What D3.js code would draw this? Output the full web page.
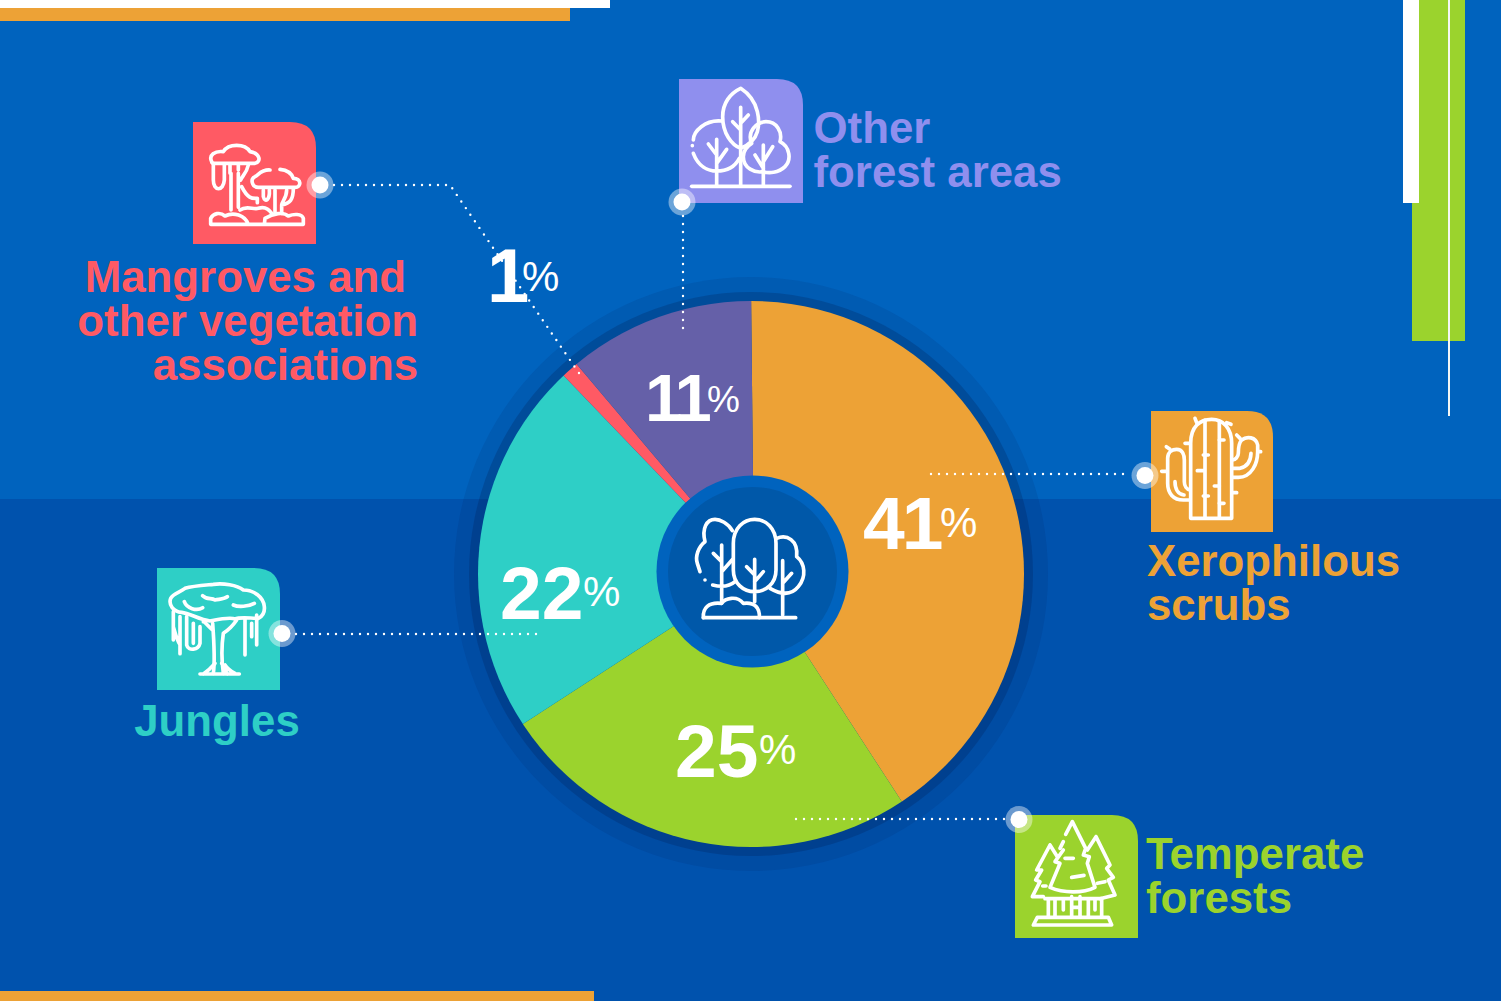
<!DOCTYPE html>
<html><head><meta charset="utf-8">
<script src="https://cdn.jsdelivr.net/npm/d3@7"></script>
<style>html,body{margin:0;padding:0;background:#0063BE;overflow:hidden}svg{display:block}
text{font-family:"Liberation Sans",Arial,sans-serif}</style></head><body>
<svg id="c" width="1501" height="1001"></svg>
<script>
const categories=["Xerophilous scrubs","Temperate forests","Jungles","Mangroves and other vegetation associations","Other forest areas"];
const values=[41,25,22,1,11];
const tickLabels=values.map(v=>v+"");
const colors=["#EDA236","#9BD32D","#2ECFC6","#FF5A64","#6560A8"];
const legendColors=["#EDA236","#9BD32D","#2ECFC6","#FF5A64","#8F8FEE"];
const legendLines=[["Xerophilous","scrubs"],["Temperate","forests"],["Jungles"],["Mangroves and","other vegetation","associations"],["Other","forest areas"]];

const svg=d3.select("#c");
const W=1501,H=1001,cx=751,cy=574,R=273;
function rect(x,y,w,h,f){svg.append("rect").attr("x",x).attr("y",y).attr("width",w).attr("height",h).attr("fill",f);}
rect(0,0,W,499,"#0063BE");rect(0,499,W,H-499,"#0052AD");
rect(0,0,610,8,"#fff");rect(0,8,570,13,"#EDA236");rect(0,991,594,10,"#EDA236");
rect(1412,0,53,341,"#9BD32D");rect(1403,0,16,203,"#fff");rect(1448,0,2,416,"#f4f7f4");

// rings
svg.append("circle").attr("cx",cx).attr("cy",cy).attr("r",297).attr("fill","#001f4f").attr("fill-opacity",.11);
svg.append("circle").attr("cx",cx).attr("cy",cy).attr("r",282).attr("fill","#001f4f").attr("fill-opacity",.24);

// pie: wedges share an apex a little right of the disc centre, clipped to the disc
svg.append("clipPath").attr("id","disc").append("circle").attr("cx",cx).attr("cy",cy).attr("r",R);
const color=d3.scaleOrdinal().domain(categories).range(colors);
const rot=-0.6*Math.PI/180;
const pie=d3.pie().sort(null).value(d=>d).startAngle(rot).endAngle(2*Math.PI+rot);
const arcs=pie(values);
const arc=d3.arc().innerRadius(0).outerRadius(R+15);
const g=svg.append("g").attr("clip-path","url(#disc)").append("g").attr("transform",`translate(${cx+3},${cy})`);
g.selectAll("path").data(arcs).join("path").attr("d",arc).attr("fill",(d,i)=>color(categories[i]));

// hub
svg.append("circle").attr("cx",752.5).attr("cy",571.5).attr("r",96).attr("fill","#0063BE");
svg.append("circle").attr("cx",752.5).attr("cy",571.5).attr("r",84.5).attr("fill","#0058A9");

// leaders
const leaderPaths=["M931 474H1131","M796 819H1006","M296 634H541","M334 185H450L581 376","M683 216V330"];
svg.append("g").selectAll("path").data(leaderPaths).join("path").attr("d",d=>d).attr("fill","none")
 .attr("stroke","#fff").attr("stroke-width",2.4).attr("stroke-linecap","round").attr("stroke-dasharray","0 8");

// icon tiles  (x,y,size)
const tiles=[[1151,411,122,121],[1015,815,123,123],[157,568,123,122],[193,122,123,122],[679,79,124,124]];
const r=26;
tiles.forEach((t,i)=>{const [x,y,w,h]=t;
 svg.append("path").attr("d",`M${x} ${y}H${x+w-r}Q${x+w} ${y} ${x+w} ${y+r}V${y+h}H${x}Z`).attr("fill",legendColors[i]);});

// icon line art, written in 3x local units
const icons=[
 {o:[1120,400],p:["M212 355V130C212 80 240 58 275 58C310 58 335 85 335 130V355Z","M255 60V352M298 65V352","M230 68L225 55M320 68L333 73M210 130H195M250 165H265M232 212H250M298 120H312M283 258H298M250 288H265M298 310H312M338 278H350",
  "M210 300H190C160 300 143 280 143 250V175C143 155 158 148 170 148C188 148 193 165 193 180V245C193 258 200 268 210 270M125 214H142M150 148L139 140M165 245C165 268 175 283 192 285",
  "M338 232H355C395 232 413 190 413 155V135C408 110 380 108 365 120C355 130 355 145 355 160C355 170 345 180 338 180M338 205H360C380 200 392 185 393 160M350 105L360 115M413 155H422"]},
 {o:[1000,800],p:["M197 103L217 65L257 145L250 165L268 170L262 190L285 262C250 280 190 280 150 262L180 190L165 185L190 150",
  "M150 135L110 210L125 210L107 240L120 245L97 290H130M150 135L172 170M190 125L180 145","M288 110L330 195L320 205L340 232L325 240L345 285L300 296M288 110L262 150",
  "M195 175H220M215 232L252 226M292 250L315 245M128 258H138","M100 375H335L325 352H112ZM135 296H305M145 296V352M165 296V352M190 296V330M215 290V352M240 290V352M215 322H240M265 296V352M285 296V330M305 296V352"]},
 {o:[140,555],p:["M125 172C100 170 85 150 92 130C100 115 120 112 135 100C160 92 200 90 220 88C250 84 290 90 310 105C340 105 370 125 373 155C375 175 365 185 355 190C330 190 300 185 285 192C270 185 240 192 210 198C180 195 150 175 125 172",
  "M188 122C200 135 215 128 225 135C240 132 255 132 262 125M133 140C140 160 170 170 188 158M280 150C295 157 325 155 343 145",
  "M220 355C225 320 222 260 218 205M250 355C245 320 245 270 250 235C265 225 280 210 290 195M218 225C205 215 195 200 190 200",
  "M100 170V255M120 185V296M100 215C110 250 115 265 120 268M140 185V270C145 290 175 285 180 265V215M160 205V265M315 190V300M350 180V270M335 205V245",
  "M180 357H298M190 357C215 340 220 330 225 325M262 357C250 340 255 330 245 325M285 355C265 345 258 335 255 330"]},
 {o:[170,110],p:["M125 155C115 135 135 122 160 125C175 100 225 100 240 125C270 130 275 155 255 160H135C128 160 125 158 125 155Z",
  "M130 160V210C130 245 160 245 163 210V165M180 165V190M183 300V190M205 292V190M205 180V165M235 165C230 190 215 200 212 210M215 230C235 270 250 265 262 265V278",
  "M300 180C275 178 265 195 255 200C240 205 245 232 265 232H375C395 232 395 205 370 205C365 190 350 180 330 178",
  "M280 240V260C285 280 300 270 298 240M315 240V310M335 285V310M350 240C350 265 335 275 335 285M370 235C370 270 360 280 335 285",
  "M122 343H400V325C395 310 370 312 355 318C340 305 310 310 285 325L283 343M122 343V325C130 310 150 305 165 318C190 305 225 315 235 343M210 300C230 285 250 300 265 295C280 290 295 295 305 310"]},
 {o:[640,60],p:["M155 379H450","M302 85C270 100 248 130 248 170C248 220 275 255 302 265C325 255 345 240 352 215C358 195 358 180 352 155C345 125 325 100 302 85ZM302 375V142M302 210L278 185M302 190L325 165",
  "M245 183C195 178 160 215 160 240M157 257V257.1M160 280C175 320 205 333 230 333C260 333 285 320 298 295M230 375V238M230 285L205 252M230 310L260 268",
  "M335 250C320 215 350 185 378 185C410 185 428 215 420 245C450 260 455 300 435 320C415 340 385 340 370 335C345 340 310 325 310 290C310 270 322 258 335 250ZM370 375V255M370 325L345 285M370 305L398 260"]},
 {o:[640,460],p:["M190 473H467","M277 212C265 190 240 178 225 178C200 178 185 205 195 245C175 260 165 290 172 310L180 335M195 360V360.1M218 375C245 382 270 378 285 365M245 430V255M245 305L220 280M245 335L278 298",
  "M344 178C310 178 280 205 280 250V330C280 370 310 395 344 395C378 395 408 370 408 330V250C408 205 378 178 344 178ZM344 425V298M344 345L320 320M344 365L370 335",
  "M410 235C440 222 475 240 470 290C495 310 500 350 475 380C455 405 425 405 390 385M428 465V302M428 370L455 340","M190 473C188 445 205 425 245 430C255 415 290 405 310 430C345 425 360 445 358 473"]}
];
icons.forEach(ic=>{svg.append("g").attr("transform",`translate(${ic.o[0]},${ic.o[1]}) scale(${1/3})`)
 .selectAll("path").data(ic.p).join("path").attr("d",d=>d).attr("fill","none").attr("stroke","#fff")
 .attr("stroke-width",11).attr("stroke-linecap","round").attr("stroke-linejoin","round");});

// anchor dots
const dots=[[1145,475.5],[1019,819.5],[282,633.5],[320,185],[682,202]];
dots.forEach(([x,y])=>{
 svg.append("circle").attr("cx",x).attr("cy",y).attr("r",13.5).attr("fill","#fff").attr("fill-opacity",.42);
 svg.append("circle").attr("cx",x).attr("cy",y).attr("r",8.5).attr("fill","#fff");});

// legend text: x, first baseline, anchor
const legendPos=[[1147,576,"start"],[1146,869,"start"],[217,736,"middle"],[418,292,"end"],[813.5,143,"start"]];
legendLines.forEach((lines,i)=>{const [x,y,a]=legendPos[i];
 const t=svg.append("text").attr("text-anchor",a).attr("font-size",43.8).attr("font-weight",700).attr("fill",legendColors[i]);
 lines.forEach((s,j)=>{
  t.append("tspan").attr("x",(i===3&&j===0)?x-12:x).attr("y",y+j*44).text(s);});});

// percent labels: digit x/baseline/size/spacing, % x/baseline/size
const pctPos=[[863,549,75,-3,940,537,42],[675,777,75,0,759,764,42],[500,619,75,0,583,606,42],[487,302,76,-10,522,291,42],[645,421,67,-4,707,412,37]];
tickLabels.forEach((s,i)=>{const [x,y,fs,ls,px,py,pfs]=pctPos[i];
 const t=svg.append("text").attr("fill","#fff");
 t.append("tspan").attr("x",x).attr("y",y).attr("font-size",fs).attr("font-weight",700).attr("letter-spacing",ls).text(s);
 t.append("tspan").attr("x",px).attr("y",py).attr("font-size",pfs).text("%");});
</script></body></html>
